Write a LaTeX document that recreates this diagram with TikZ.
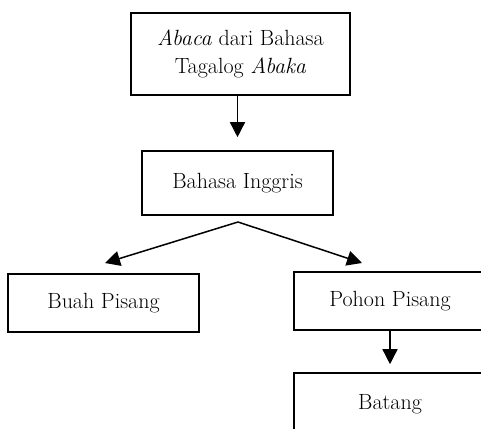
\documentclass[tikz,border=0pt]{standalone}
\usetikzlibrary{arrows.meta}
\begin{document}
\begin{tikzpicture}[x=1pt,y=-1pt,
  box/.style={draw, line width=1.6pt, inner sep=0pt},
  lbl/.style={font=\fontsize{22}{28}\selectfont, align=center},
  arr/.style={line width=1.5pt, -{Triangle[length=15pt,width=15pt]}}]
\useasboundingbox (0,0) rectangle (481,428);
\clip (0,0) rectangle (481,428);

% boxes
\node[box, lbl, minimum width=219pt, minimum height=82pt] (src) at (240.5,54)
  {\textit{Abaca} dari Bahasa\\Tagalog \textit{Abaka}};
\node[box, lbl, minimum width=191pt, minimum height=64pt] (eng) at (237.5,183)
  {Bahasa Inggris};
\node[box, lbl, minimum width=191pt, minimum height=58pt] (buah) at (103.5,303)
  {Buah Pisang};
\node[box, lbl, minimum width=192pt, minimum height=58pt] (pohon) at (390,301)
  {Pohon Pisang};
\node[box, lbl, minimum width=192pt, minimum height=62pt] (batang) at (390,404)
  {Batang};

% connector end points
\coordinate (fork) at (238,222);
\coordinate (tipL) at (105,263);
\coordinate (tipR) at (362,263);

% connectors
\draw[arr, shorten >=13pt] (eng.north |- src.south) -- (eng.north);
\draw[arr] (fork) -- (tipL);
\draw[arr] (fork) -- (tipR);
\draw[arr, shorten >=8pt] (pohon.south) -- (batang.north);
\end{tikzpicture}
\end{document}
